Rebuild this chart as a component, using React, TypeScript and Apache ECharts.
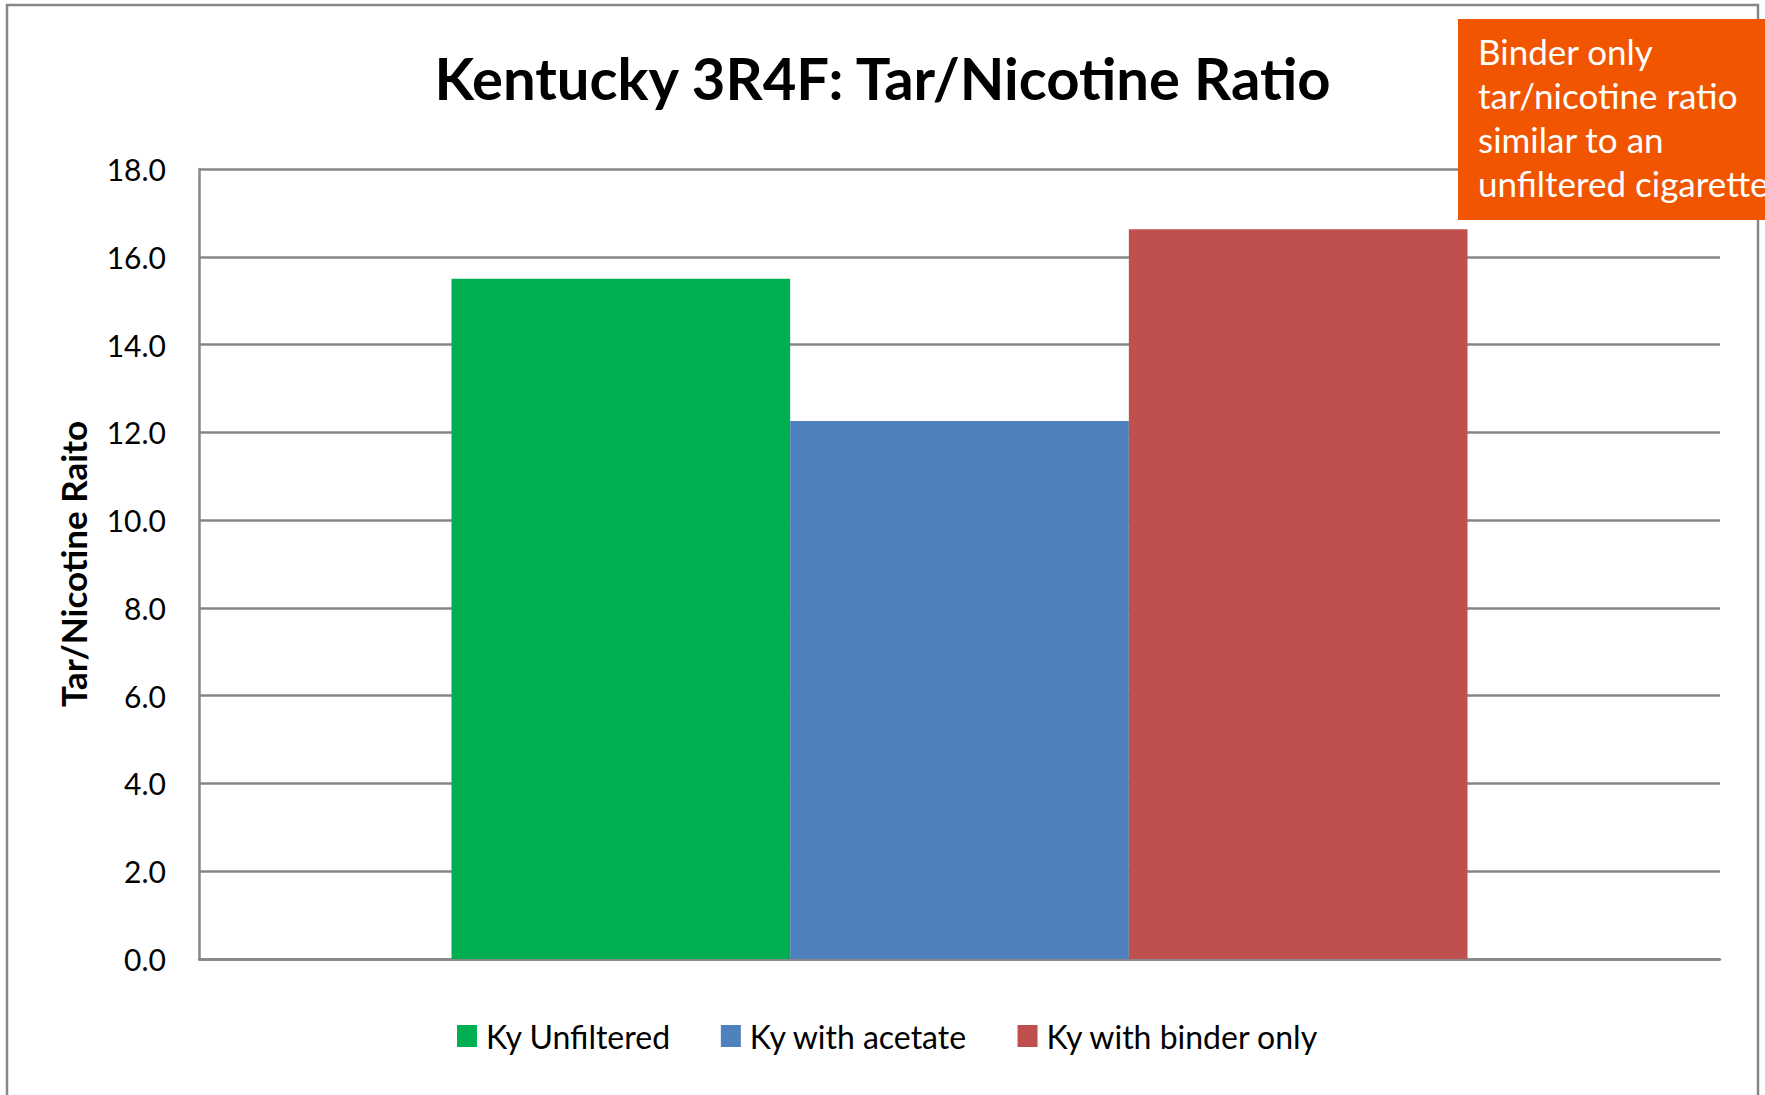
import React, { useEffect, useRef } from "react";
import * as echarts from "echarts";

const categories: string[] = [""];
const seriesNames: string[] = ["Ky Unfiltered", "Ky with acetate", "Ky with binder only"];
const seriesValues: number[] = [15.5, 12.26, 16.63];
const yTickMin = 0;
const yTickMax = 18;
const yTickStep = 2;
const titleText = "Kentucky 3R4F: Tar/Nicotine Ratio";
const yAxisTitle = "Tar/Nicotine Raito";
const calloutLines: string[] = ["Binder only", "tar/nicotine ratio", "similar to an", "unfiltered cigarette"];

const palette = ["#00B050", "#4F81BD", "#C0504D"];
const FONT = "Lato, 'Open Sans', sans-serif";
const GRID_GRAY = "#878787";

export default function App() {
  const ref = useRef<HTMLDivElement>(null);
  useEffect(() => {
    if (!ref.current) return;
    const chart = echarts.init(ref.current, null, { renderer: "svg" });
    const option: any = {
      animation: false,
      backgroundColor: "#ffffff",
      title: {
        text: titleText,
        left: "center",
        top: 42,
        padding: 0,
        textStyle: {
          fontFamily: FONT,
          fontWeight: "bold",
          fontSize: 58,
          lineHeight: 70,
          color: "#000000",
        },
      },
      legend: {
        data: seriesNames,
        left: 457,
        top: 1020,
        padding: 0,
        itemWidth: 20,
        itemHeight: 22,
        itemGap: 50,
        icon: "rect",
        textStyle: {
          fontFamily: FONT,
          fontSize: 32,
          color: "#000000",
          padding: [0, 0, 0, 4],
        },
      },
      grid: {
        left: 199,
        right: 45,
        top: 169,
        bottom: 136,
        containLabel: false,
      },
      xAxis: {
        type: "category",
        data: categories,
        axisLine: { show: true, lineStyle: { color: GRID_GRAY, width: 2.5 } },
        axisTick: { show: false },
        axisLabel: { show: false },
      },
      yAxis: {
        type: "value",
        min: yTickMin,
        max: yTickMax,
        interval: yTickStep,
        name: yAxisTitle,
        nameLocation: "middle",
        nameRotate: 90,
        nameGap: 109,
        nameTextStyle: {
          fontFamily: FONT,
          fontWeight: "bold",
          fontSize: 35,
          color: "#000000",
        },
        axisLine: { show: true, lineStyle: { color: GRID_GRAY, width: 2.5 } },
        axisTick: { show: false },
        axisLabel: {
          margin: 33,
          fontFamily: FONT,
          fontSize: 30,
          color: "#000000",
          formatter: (v: number) => v.toFixed(1),
        },
        splitLine: { show: true, lineStyle: { color: GRID_GRAY, width: 2.5 } },
      },
      series: seriesNames.map((name, i) => ({
        name,
        type: "bar",
        data: [seriesValues[i]],
        barGap: "0%",
        barCategoryGap: "33.2%",
        itemStyle: { color: palette[i] },
      })),
      graphic: [
        {
          type: "rect",
          z: 50,
          silent: true,
          shape: { x: 7, y: 5, width: 1751, height: 1200 },
          style: { fill: "none", stroke: GRID_GRAY, lineWidth: 2.5 },
        },
        {
          type: "rect",
          z: 100,
          shape: { x: 1458, y: 19, width: 400, height: 201 },
          style: { fill: "#F25500" },
        },
        {
          type: "text",
          z: 101,
          x: 1478,
          y: 29,
          style: {
            text: calloutLines.join("\n"),
            fill: "#ffffff",
            fontFamily: FONT,
            fontSize: 35,
            lineHeight: 44,
            textAlign: "left",
            textVerticalAlign: "top",
          },
        },
      ],
    };
    chart.setOption(option);
    return () => chart.dispose();
  }, []);
  return (
    <div
      ref={ref}
      style={{ position: "fixed", left: 0, top: 0, width: 1765, height: 1095, background: "#fff" }}
    />
  );
}
